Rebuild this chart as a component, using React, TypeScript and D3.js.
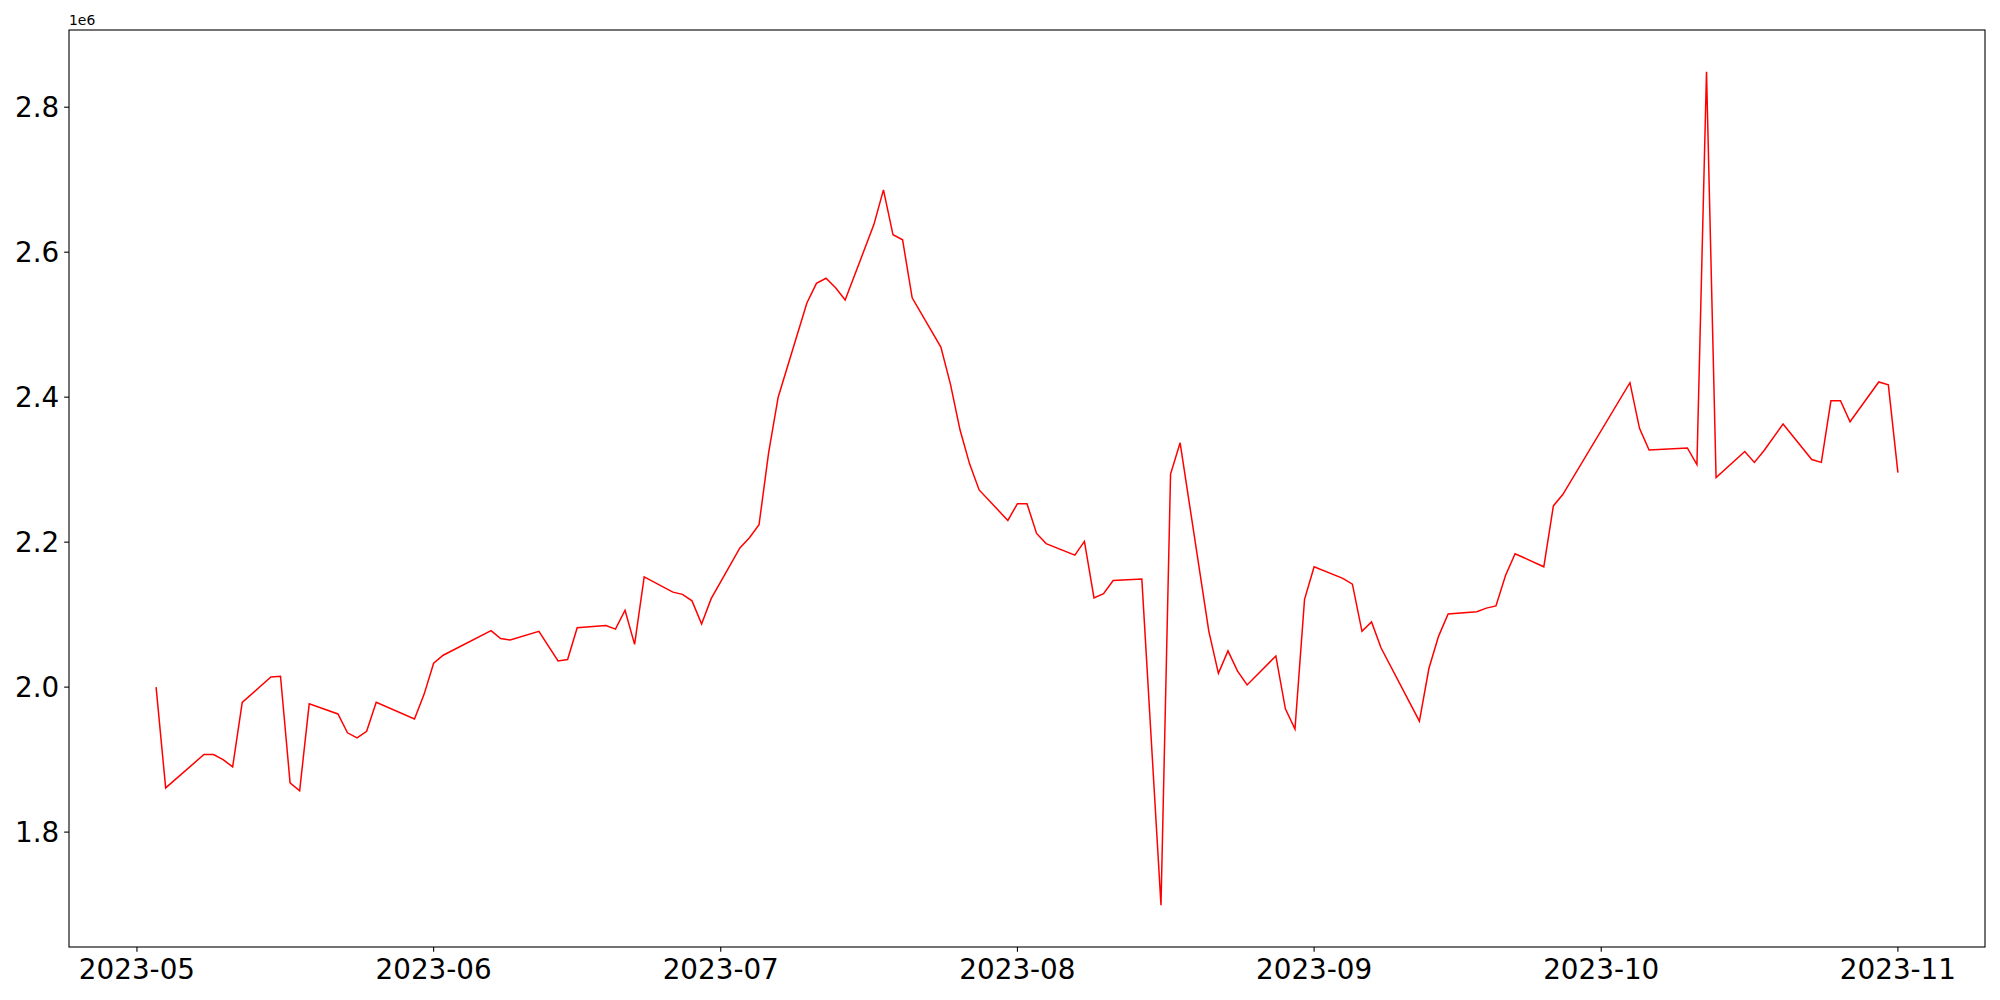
import React from "react";
import * as d3 from "d3";

const dates: string[] = [
  "2023-05-03","2023-05-04","2023-05-08","2023-05-09","2023-05-10","2023-05-11","2023-05-12",
  "2023-05-15","2023-05-16","2023-05-17","2023-05-18","2023-05-19","2023-05-22","2023-05-23",
  "2023-05-24","2023-05-25","2023-05-26","2023-05-30","2023-05-31","2023-06-01","2023-06-02",
  "2023-06-07","2023-06-08","2023-06-09","2023-06-12","2023-06-14","2023-06-15","2023-06-16",
  "2023-06-19","2023-06-20","2023-06-21","2023-06-22","2023-06-23","2023-06-26","2023-06-27",
  "2023-06-28","2023-06-29","2023-06-30","2023-07-03","2023-07-04","2023-07-05","2023-07-06",
  "2023-07-07","2023-07-10","2023-07-11","2023-07-12","2023-07-13","2023-07-14","2023-07-17",
  "2023-07-18","2023-07-19","2023-07-20","2023-07-21","2023-07-24","2023-07-25","2023-07-26",
  "2023-07-27","2023-07-28","2023-07-31","2023-08-01","2023-08-02","2023-08-03","2023-08-04",
  "2023-08-07","2023-08-08","2023-08-09","2023-08-10","2023-08-11","2023-08-14","2023-08-16",
  "2023-08-17","2023-08-18","2023-08-21","2023-08-22","2023-08-23","2023-08-24","2023-08-25",
  "2023-08-28","2023-08-29","2023-08-30","2023-08-31","2023-09-01","2023-09-04","2023-09-05",
  "2023-09-06","2023-09-07","2023-09-08","2023-09-12","2023-09-13","2023-09-14","2023-09-15",
  "2023-09-18","2023-09-19","2023-09-20","2023-09-21","2023-09-22","2023-09-25","2023-09-26",
  "2023-09-27","2023-10-04","2023-10-05","2023-10-06","2023-10-10","2023-10-11","2023-10-12",
  "2023-10-13","2023-10-16","2023-10-17","2023-10-18","2023-10-20","2023-10-23","2023-10-24",
  "2023-10-25","2023-10-26","2023-10-27","2023-10-30","2023-10-31","2023-11-01",
];

const values: number[] = [
  2.000e6, 1.861e6, 1.907e6, 1.907e6, 1.900e6, 1.890e6, 1.979e6,
  2.014e6, 2.015e6, 1.868e6, 1.857e6, 1.977e6, 1.963e6, 1.937e6,
  1.930e6, 1.939e6, 1.979e6, 1.956e6, 1.990e6, 2.033e6, 2.044e6,
  2.078e6, 2.067e6, 2.065e6, 2.077e6, 2.036e6, 2.038e6, 2.082e6,
  2.085e6, 2.080e6, 2.106e6, 2.059e6, 2.152e6, 2.131e6, 2.128e6,
  2.119e6, 2.087e6, 2.122e6, 2.192e6, 2.206e6, 2.224e6, 2.323e6,
  2.400e6, 2.530e6, 2.557e6, 2.564e6, 2.551e6, 2.534e6, 2.638e6,
  2.686e6, 2.624e6, 2.617e6, 2.537e6, 2.469e6, 2.418e6, 2.355e6,
  2.308e6, 2.272e6, 2.230e6, 2.253e6, 2.253e6, 2.212e6, 2.198e6,
  2.182e6, 2.201e6, 2.123e6, 2.129e6, 2.147e6, 2.149e6, 1.699e6,
  2.294e6, 2.337e6, 2.077e6, 2.019e6, 2.050e6, 2.022e6, 2.003e6,
  2.043e6, 1.970e6, 1.942e6, 2.121e6, 2.166e6, 2.150e6, 2.142e6,
  2.077e6, 2.090e6, 2.054e6, 1.953e6, 2.026e6, 2.070e6, 2.101e6,
  2.104e6, 2.109e6, 2.112e6, 2.154e6, 2.184e6, 2.166e6, 2.250e6,
  2.266e6, 2.420e6, 2.357e6, 2.327e6, 2.330e6, 2.307e6, 2.849e6,
  2.289e6, 2.325e6, 2.310e6, 2.326e6, 2.363e6, 2.314e6, 2.310e6,
  2.395e6, 2.395e6, 2.366e6, 2.421e6, 2.417e6, 2.296e6,
];

const yTicks: number[] = [1.8e6, 2.0e6, 2.2e6, 2.4e6, 2.6e6, 2.8e6];
const xTickLabels: string[] = ["2023-05", "2023-06", "2023-07", "2023-08", "2023-09", "2023-10", "2023-11"];
const offsetLabel = "1e6";

const W = 2000;
const H = 1000;
const L = 69;
const T = 30;
const R = 1985;
const B = 947;
const FONT = "DejaVu Sans, sans-serif";

export default function App() {
  const parsed = dates.map((d) => new Date(d + "T00:00:00Z"));
  const [x0, x1] = d3.extent(parsed) as [Date, Date];
  const span = x1.getTime() - x0.getTime();
  const x = d3
    .scaleUtc()
    .domain([new Date(x0.getTime() - span * 0.05), new Date(x1.getTime() + span * 0.05)])
    .range([L, R]);
  const [v0, v1] = d3.extent(values) as [number, number];
  const vs = v1 - v0;
  const y = d3.scaleLinear().domain([v0 - vs * 0.05, v1 + vs * 0.05]).range([B, T]);

  const pts = parsed.map((d, i) => [d, values[i]] as [Date, number]);
  const line = d3
    .line<[Date, number]>()
    .x((d) => x(d[0]))
    .y((d) => y(d[1]));

  const xTicks = xTickLabels.map((s) => new Date(s + "-01T00:00:00Z"));
  const tickLen = 4.86;

  return (
    <svg
      width={W}
      height={H}
      style={{ position: "absolute", left: 0, top: 0, background: "#fff" }}
      fontFamily={FONT}
    >
      <rect x={0} y={0} width={W} height={H} fill="#fff" />
      <path d={line(pts) || ""} fill="none" stroke="#ff0000" strokeWidth={1.5} strokeLinejoin="miter" />
      <rect x={L} y={T} width={R - L} height={B - T} fill="none" stroke="#000" strokeWidth={1.1} />
      {yTicks.map((t) => (
        <g key={t}>
          <line x1={L - tickLen} x2={L} y1={y(t)} y2={y(t)} stroke="#000" strokeWidth={1.1} />
          <text
            x={L - tickLen - 4.9}
            y={y(t)}
            textAnchor="end"
            dominantBaseline="central"
            fontSize={27.8}
            fill="#000"
          >
            {(t / 1e6).toFixed(1)}
          </text>
        </g>
      ))}
      {xTicks.map((t, i) => (
        <g key={i}>
          <line x1={x(t)} x2={x(t)} y1={B} y2={B + tickLen} stroke="#000" strokeWidth={1.1} />
          <text x={x(t)} y={B + tickLen + 4.9 + 22.3} textAnchor="middle" fontSize={27.8} fill="#000">
            {xTickLabels[i]}
          </text>
        </g>
      ))}
      <text x={L} y={T - 5} fontSize={13.9} fill="#000">
        {offsetLabel}
      </text>
    </svg>
  );
}
